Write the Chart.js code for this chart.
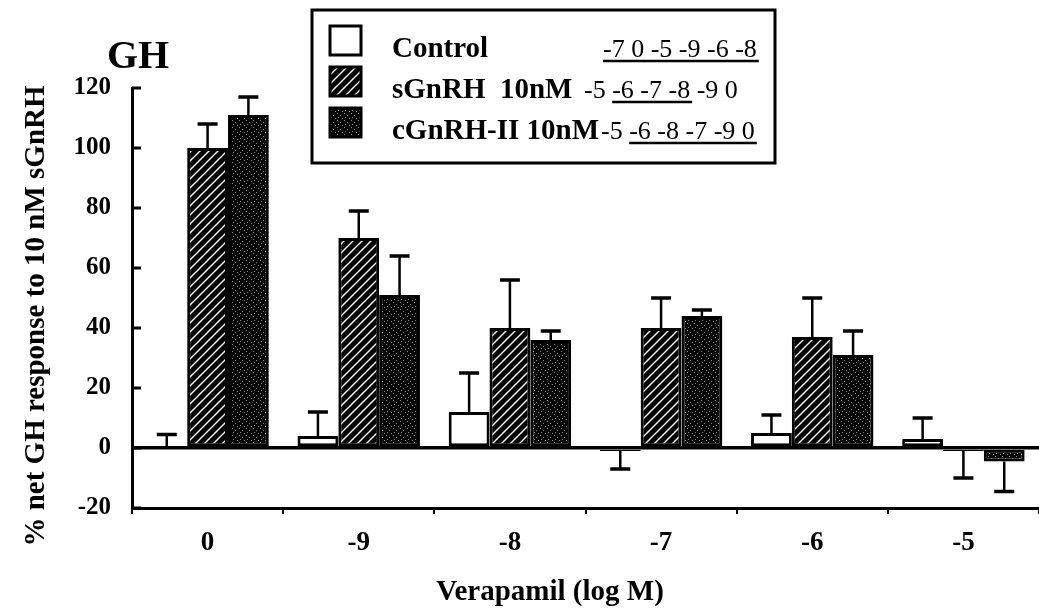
<!DOCTYPE html>
<html>
<head>
<meta charset="utf-8">
<title>GH response to verapamil</title>
<script src="https://cdn.jsdelivr.net/npm/chart.js@4"></script>
<style>
  html, body { margin: 0; padding: 0; background: #fff; overflow: hidden; }
  #wrap { position: relative; width: 1039px; height: 609px; }
</style>
</head>
<body>
<div id="wrap"><canvas id="gh-chart"></canvas></div>
<script>
'use strict';

// values (% net GH response to 10 nM sGnRH)
var categories = ['0', '-9', '-8', '-7', '-6', '-5'];
var controlValues = [0, 4, 12, -1, 5, 3];
var controlErrors = [4.5, 8, 13, 6, 6, 7];
var sgnrhValues = [100, 70, 40, 40, 37, -1];
var sgnrhErrors = [8, 9, 16, 10, 13, 9];
var cgnrhValues = [111, 51, 36, 44, 31, -4.5];
var cgnrhErrors = [6, 13, 3, 2, 8, 10];
var seriesLabels = ['Control', 'sGnRH  10nM', 'cGnRH-II 10nM'];
var yLabelValues = [-20, 0, 20, 40, 60, 80, 100, 120];

// multiple-comparison notation in the legend box
var statOrders = [
    ['-7', '0', '-5', '-9', '-6', '-8'],
    ['-5', '-6', '-7', '-8', '-9', '0'],
    ['-5', '-6', '-8', '-7', '-9', '0']
];
var statUnderlines = [[0, 5], [1, 3], [1, 5]];

var SERIF = '"Liberation Serif", "Times New Roman", serif';

var canvas = document.getElementById('gh-chart');
var ctx = canvas.getContext('2d');

function makeHatch() {
    var c = document.createElement('canvas');
    c.width = 9; c.height = 9;
    var g = c.getContext('2d');
    g.fillStyle = '#000';
    g.fillRect(0, 0, 9, 9);
    g.strokeStyle = '#fff';
    g.lineWidth = 1.4;
    g.beginPath();
    g.moveTo(-1, 10); g.lineTo(10, -1);
    g.moveTo(-1, 1); g.lineTo(1, -1);
    g.moveTo(8, 10); g.lineTo(10, 8);
    g.stroke();
    return ctx.createPattern(c, 'repeat');
}

function makeStipple() {
    var c = document.createElement('canvas');
    c.width = 7; c.height = 7;
    var g = c.getContext('2d');
    g.fillStyle = '#050505';
    g.fillRect(0, 0, 7, 7);
    g.fillStyle = '#8c8c8c';
    g.fillRect(1, 1, 1, 1);
    g.fillRect(4, 3, 1, 1);
    g.fillRect(2, 5, 1, 1);
    g.fillRect(6, 6, 1, 1);
    return ctx.createPattern(c, 'repeat');
}

var hatch = makeHatch();
var stipple = makeStipple();

var errorBars = {
    id: 'errorBars',
    afterDatasetsDraw: function( chart ) {
        var c = chart.ctx;
        var y = chart.scales.y;
        c.save();
        c.strokeStyle = '#000';
        chart.data.datasets.forEach(function( ds, i ) {
            var meta = chart.getDatasetMeta(i);
            meta.data.forEach(function( bar, j ) {
                var v = ds.data[j];
                var e = ds.errors[j];
                var dir = v >= 0 ? 1 : -1;
                var y0 = y.getPixelForValue(v);
                var y1 = y.getPixelForValue(v + dir * e);
                c.lineWidth = 2.5;
                c.beginPath();
                c.moveTo(bar.x, y0);
                c.lineTo(bar.x, y1);
                c.stroke();
                c.lineWidth = 3.5;
                c.beginPath();
                c.moveTo(bar.x - 10, y1);
                c.lineTo(bar.x + 10, y1);
                c.stroke();
            });
        });
        c.restore();
    }
};

var decorations = {
    id: 'decorations',
    afterDraw: function( chart ) {
        var c = chart.ctx;
        var area = chart.chartArea;
        var y = chart.scales.y;
        c.save();

        // inward y ticks
        c.strokeStyle = '#000';
        c.lineWidth = 3;
        y.ticks.forEach(function( t ) {
            var py = y.getPixelForValue(t.value);
            var len = yLabelValues.indexOf(t.value) >= 0 ? 9 : 6;
            c.beginPath();
            c.moveTo(area.left, py);
            c.lineTo(area.left + len, py);
            c.stroke();
        });

        // panel title, axis titles
        c.fillStyle = '#000';
        c.textBaseline = 'alphabetic';
        c.textAlign = 'left';
        c.font = 'bold 40px ' + SERIF;
        c.fillText('GH', 107, 68);
        c.textAlign = 'center';
        c.font = 'bold 29px ' + SERIF;
        c.fillText('Verapamil (log M)', 550, 600);

        c.save();
        c.translate(37, 316);
        c.rotate(-Math.PI / 2);
        c.textBaseline = 'middle';
        c.font = 'bold 29px ' + SERIF;
        c.fillText('% net GH response to 10 nM sGnRH', 0, 0);
        c.restore();

        // legend box
        c.fillStyle = '#fff';
        c.fillRect(312, 10, 463, 153);
        c.lineWidth = 3;
        c.strokeStyle = '#000';
        c.strokeRect(312, 10, 463, 153);

        var textBase = [57, 98, 139];
        var statX = [603, 584, 601];
        chart.data.datasets.forEach(function( ds, i ) {
            var top = textBase[i] - 31;
            c.fillStyle = ds.backgroundColor;
            c.fillRect(330, top, 31, 29);
            c.lineWidth = 3;
            c.strokeStyle = '#000';
            c.strokeRect(330, top, 31, 29);

            c.fillStyle = '#000';
            c.textAlign = 'left';
            c.font = 'bold 29px ' + SERIF;
            c.fillText(seriesLabels[i], 392, textBase[i]);

            c.font = '26px ' + SERIF;
            var tokens = statOrders[i];
            c.fillText(tokens.join(' '), statX[i], textBase[i]);
            var r = statUnderlines[i];
            var pre = tokens.slice(0, r[0]).join(' ');
            var upto = tokens.slice(0, r[1] + 1).join(' ');
            var u0 = statX[i] + (pre ? c.measureText(pre + ' ').width : 0);
            var u1 = statX[i] + c.measureText(upto).width;
            c.lineWidth = 2.5;
            c.beginPath();
            c.moveTo(u0, textBase[i] + 4);
            c.lineTo(u1 + 2, textBase[i] + 4);
            c.stroke();
        });

        c.restore();
    }
};

new Chart( ctx, {
    type: 'bar',
    data: {
        labels: categories,
        datasets: [ {
            label: seriesLabels[0],
            data: controlValues,
            errors: controlErrors,
            backgroundColor: '#fff',
            borderColor: '#000',
            borderWidth: 3
        }, {
            label: seriesLabels[1],
            data: sgnrhValues,
            errors: sgnrhErrors,
            backgroundColor: hatch,
            borderColor: '#000',
            borderWidth: 3
        }, {
            label: seriesLabels[2],
            data: cgnrhValues,
            errors: cgnrhErrors,
            backgroundColor: stipple,
            borderColor: '#000',
            borderWidth: 3
        } ]
    },
    options: {
        responsive: true,
        maintainAspectRatio: false,
        animation: false,
        layout: { padding: { top: 88, right: 0, left: 0, bottom: 0 } },
        datasets: {
            bar: { categoryPercentage: 0.81, barPercentage: 1.0, borderSkipped: false }
        },
        plugins: {
            legend: { display: false },
            tooltip: { enabled: false }
        },
        scales: {
            x: {
                afterFit: function( scale ) { scale.height = 101; },
                grid: {
                    offset: true,
                    drawOnChartArea: false,
                    drawTicks: true,
                    tickLength: 6,
                    color: '#000',
                    lineWidth: 2
                },
                border: { display: true, color: '#000', width: 3 },
                ticks: {
                    color: '#000',
                    padding: 13,
                    font: { family: SERIF, size: 27, weight: 'bold' }
                }
            },
            y: {
                min: -20,
                max: 120,
                afterFit: function( scale ) { scale.width = 132; },
                grid: {
                    drawTicks: false,
                    color: function( c ) { return c.tick && c.tick.value === 0 ? '#000' : 'rgba(0,0,0,0)'; },
                    lineWidth: function( c ) { return c.tick && c.tick.value === 0 ? 3.5 : 0; }
                },
                border: { display: true, color: '#000', width: 3 },
                ticks: {
                    stepSize: 10,
                    color: '#000',
                    padding: 21,
                    font: { family: SERIF, size: 25, weight: 'bold' },
                    callback: function( v ) { return yLabelValues.indexOf(v) >= 0 ? String(v) : ''; }
                }
            }
        }
    },
    plugins: [ errorBars, decorations ]
} );
</script>
</body>
</html>
